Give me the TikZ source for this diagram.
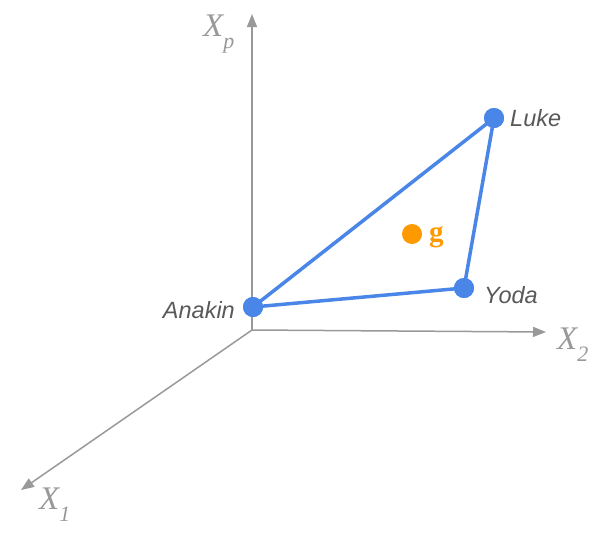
\documentclass[tikz,border=0pt]{standalone}
\usepackage{fontspec}
\setmainfont{Liberation Serif}
\setsansfont{Liberation Sans}
\usetikzlibrary{arrows.meta}
\definecolor{axisgrey}{HTML}{999999}
\definecolor{labgrey}{HTML}{595959}
\definecolor{ptblue}{HTML}{4A86E8}
\definecolor{ptorange}{HTML}{FF9900}
\newcommand{\axsub}[1]{\raisebox{-12pt}{\fontsize{22}{22}\selectfont #1}}
\begin{document}
\begin{tikzpicture}[x=1pt,y=-1pt,
  axis/.style={draw=axisgrey,line width=1.5pt,-{Triangle[length=13pt,width=10pt]}},
  axlab/.style={text=axisgrey,inner sep=0pt,font=\itshape\fontsize{33}{33}\selectfont},
  edge/.style={draw=ptblue,line width=3.5pt},
  pt/.style={circle,fill=ptblue,inner sep=0pt,minimum size=20pt},
  ptlab/.style={text=labgrey,inner sep=0pt,font=\sffamily\itshape\fontsize{23.5}{23.5}\selectfont}]
\useasboundingbox (0,0) rectangle (610,536);
\coordinate (O) at (252,330);
\coordinate (Xp) at (252,14);
\coordinate (X2) at (546,332);
\coordinate (X1) at (21,490);
\draw[axis] (O) -- (Xp);
\draw[axis] (O) -- (X2);
\draw[axis] (O) -- (X1);
\node[axlab,anchor=base west] (lp) at (203,36) {X\axsub{p}};
\node[axlab,anchor=base west] (l2) at (557,349) {X\axsub{2}};
\node[axlab,anchor=base west] (l1) at (39,509) {X\axsub{1}};
\node[pt] (A) at (253,307) {};
\node[pt] (L) at (494,118) {};
\node[pt] (Y) at (464,288) {};
\draw[edge] (A.center) -- (L.center) -- (Y.center) -- cycle;
\node[pt] at (A) {};
\node[pt] at (L) {};
\node[pt] at (Y) {};
\node[ptlab,anchor=base east] (la) at (235,318) {Anakin};
\node[ptlab,anchor=base west] (ll) at (510,126) {Luke};
\node[ptlab,anchor=base west] (ly) at (484,303) {Yoda};
\node[circle,fill=ptorange,inner sep=0pt,minimum size=20pt] (g) at (412,234) {};
\node[text=ptorange,inner sep=0pt,font=\bfseries\fontsize{29}{29}\selectfont,anchor=base west] (lg) at (429,241) {g};
\end{tikzpicture}
\end{document}
